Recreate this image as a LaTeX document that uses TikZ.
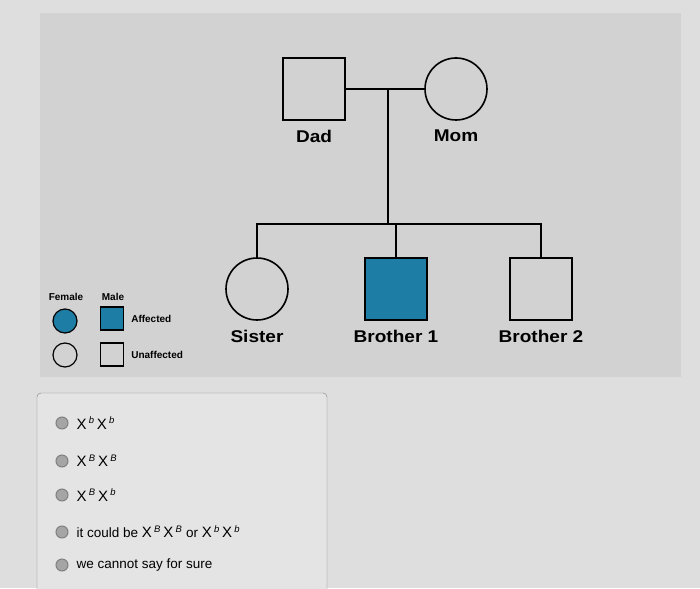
\documentclass[tikz,border=0pt]{standalone}
\usepackage{fontspec}
\setmainfont{Liberation Sans}
\usepackage{tikz}
\usetikzlibrary{positioning}

\definecolor{pedblue}{RGB}{30,125,165}
\definecolor{screengray}{RGB}{222,222,222}
\definecolor{panelgray}{RGB}{210,210,210}
\definecolor{boxgray}{RGB}{228,228,228}
\definecolor{radiogray}{RGB}{165,165,165}

\newcommand{\bigX}{{\fontsize{15}{15}\selectfont X}}

\begin{document}
\begin{tikzpicture}[
    x=1pt,y=-1pt,
    node distance=9pt,
    male/.style={draw,line width=1.6pt,minimum size=62pt,inner sep=0pt},
    female/.style={draw,circle,line width=1.6pt,minimum size=62pt,inner sep=0pt},
    affected/.style={fill=pedblue},
    keymale/.style={draw,line width=1.2pt,minimum size=23pt,inner sep=0pt},
    keyfemale/.style={draw,circle,line width=1.2pt,minimum size=24pt,inner sep=0pt},
    nametag/.style={inner sep=0pt,font=\fontsize{17}{17}\selectfont\bfseries,xscale=1.12},
    keytag/.style={inner sep=0pt,font=\fontsize{10}{10}\selectfont\bfseries},
    radio/.style={circle,draw=gray,line width=1pt,fill=radiogray,minimum size=12pt,inner sep=0pt},
    choice/.style={anchor=west,inner sep=0pt,font=\fontsize{13.5}{14}\selectfont}]
  \useasboundingbox (0,0) rectangle (700,588);
  \clip (0,0) rectangle (700,588);
  \fill[screengray] (0,0) rectangle (700,588);
  \fill[panelgray] (40,13) rectangle (681,377);

  % parents
  \node[male] (dad) at (314,89) {};
  \node[female] (mom) at (456,89) {};
  \node[nametag,below=of dad] (dadtag) {Dad};
  \node[nametag,below=of mom] (momtag) {Mom};
  \coordinate (mate) at (388,89);
  \coordinate (sibs) at (388,224);
  \draw[line width=1.6pt] (dad) -- (mom);
  \draw[line width=1.6pt] (mate) -- (sibs);

  % children
  \node[female] (sister) at (257,289) {};
  \node[male,affected] (brotherA) at (396,289) {};
  \node[male] (brotherB) at (541,289) {};
  \node[nametag,below=of sister] (sistertag) {Sister};
  \node[nametag,below=of brotherA] (brotherAtag) {Brother 1};
  \node[nametag,below=of brotherB] (brotherBtag) {Brother 2};
  \draw[line width=1.6pt] (sister.north) -- (sister.north |- sibs) -| (brotherB.north);
  \draw[line width=1.6pt] (brotherA.north) -- (brotherA.north |- sibs);

  % key
  \node[keytag] (femaletag) at (66,297) {Female};
  \node[keytag] (maletag) at (113,297) {Male};
  \node[keyfemale,affected] (keyfa) at (65,321) {};
  \node[keymale,affected] (keyma) at (112,318.5) {};
  \node[keyfemale] (keyfu) at (65,355) {};
  \node[keymale] (keymu) at (112,354.5) {};
  \node[keytag,right=7pt of keyma] (afftag) {Affected};
  \node[keytag,right=7pt of keymu] (unafftag) {Unaffected};

  % answers
  \draw[draw=gray,fill=boxgray,rounded corners=4pt] (37,393) rectangle (327,600);
  \node[radio] (r1) at (62,423) {};
  \node[radio] (r2) at (62,461) {};
  \node[radio] (r3) at (62,495) {};
  \node[radio] (r4) at (62,532) {};
  \node[radio] (r5) at (62,565) {};
  \node[choice,right=8pt of r1] (c1) {\bigX\,\textsuperscript{\itshape b}\,\bigX\,\textsuperscript{\itshape b}};
  \node[choice,right=8pt of r2] (c2) {\bigX\,\textsuperscript{\itshape B}\,\bigX\,\textsuperscript{\itshape B}};
  \node[choice,right=8pt of r3] (c3) {\bigX\,\textsuperscript{\itshape B}\,\bigX\,\textsuperscript{\itshape b}};
  \node[choice,right=8pt of r4] (c4) {it could be \bigX\,\textsuperscript{\itshape B}\,\bigX\,\textsuperscript{\itshape B} or \bigX\,\textsuperscript{\itshape b}\,\bigX\,\textsuperscript{\itshape b}};
  \node[choice,right=8pt of r5] (c5) {we cannot say for sure};
\end{tikzpicture}
\end{document}
